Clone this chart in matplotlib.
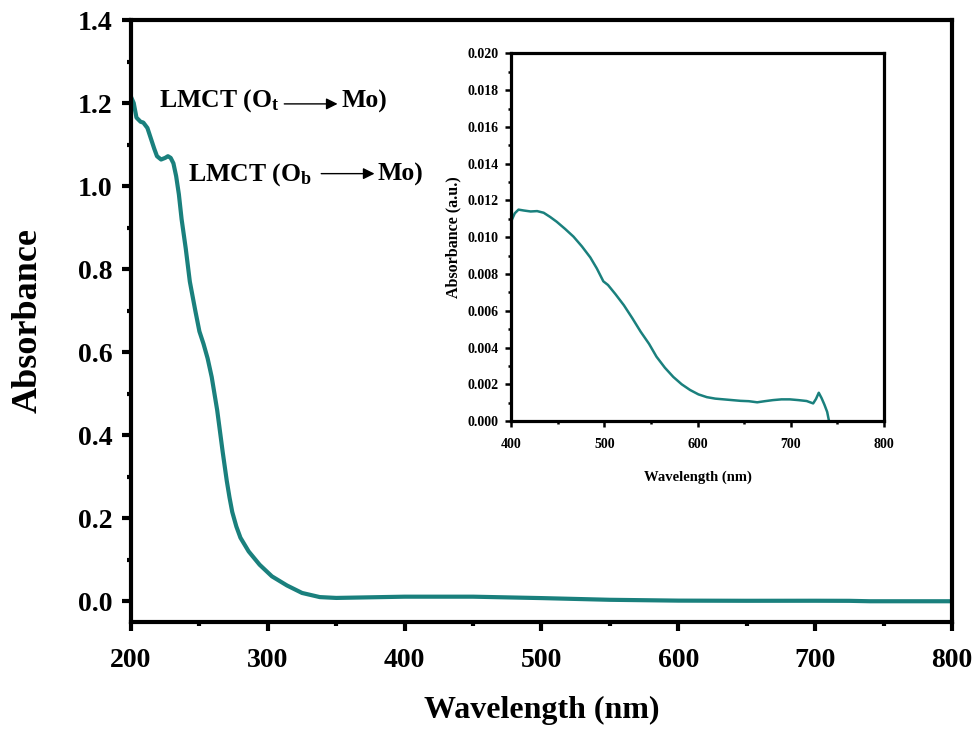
import matplotlib
matplotlib.use("Agg")
import matplotlib.pyplot as plt
from matplotlib.ticker import MultipleLocator, FormatStrFormatter

plt.rcParams['font.family'] = ['Liberation Serif', 'DejaVu Serif']
plt.rcParams['font.weight'] = 'bold'
plt.rcParams['mathtext.fontset'] = 'custom'
plt.rcParams['mathtext.rm'] = 'Liberation Serif:bold'
plt.rcParams['mathtext.it'] = 'Liberation Serif:bold'
plt.rcParams['mathtext.bf'] = 'Liberation Serif:bold'
plt.rcParams['mathtext.default'] = 'rm'

# Main spectrum
wl_main = [200, 202, 204, 207, 209, 212, 214, 217, 219, 222, 225, 227, 229, 231, 233, 235, 237, 240, 243, 247,
           250, 253, 256, 259, 261, 263, 265, 267, 270, 272, 274, 277, 280, 286, 294, 303, 314, 325, 338, 350,
           400, 450, 500, 550, 600, 650, 700, 725, 740, 800]
ab_main = [1.215, 1.20, 1.165, 1.155, 1.153, 1.14, 1.12, 1.09, 1.072, 1.064, 1.068, 1.072, 1.068, 1.055, 1.024,
           0.98, 0.92, 0.85, 0.77, 0.70,
           0.65, 0.62, 0.585, 0.54, 0.50, 0.46, 0.41, 0.36, 0.29, 0.25, 0.215, 0.18, 0.153, 0.12, 0.088, 0.06,
           0.038, 0.02, 0.01, 0.008,
           0.011, 0.011, 0.0076, 0.0035, 0.0015, 0.0011, 0.0012, 0.001, 0.0, 0.0]

# Inset spectrum
wl_in = [400, 404, 408, 414, 421, 428, 435, 442, 449, 458, 467, 476, 485, 492, 499, 504, 512, 521, 530, 539,
         548, 556, 565, 574, 583, 592, 601, 610, 619, 628, 637, 646, 655, 664, 672, 681, 690, 699, 708, 717,
         724, 727, 730, 733, 736, 739, 741]
ab_in = [0.01085, 0.0113, 0.0115, 0.01145, 0.0114, 0.01142, 0.01133, 0.0111, 0.01084, 0.01045, 0.01003, 0.0095,
         0.0089, 0.0083, 0.0076, 0.0074, 0.0069, 0.0063, 0.0056, 0.00486, 0.0042, 0.0035, 0.0029, 0.0024, 0.002,
         0.00169, 0.00145, 0.0013, 0.00122, 0.00118, 0.00114, 0.0011, 0.00108, 0.00102, 0.00108, 0.00114,
         0.00118, 0.00118, 0.00114, 0.00109, 0.00096, 0.0012, 0.00154, 0.00125, 0.0009, 0.0005, 0.0]

color = '#1a807d'

fig = plt.figure(figsize=(9.79, 7.31), dpi=100)
ax = fig.add_axes([0.1338, 0.1491, 0.8386, 0.8235])
ax.plot(wl_main, ab_main, color=color, lw=3)
ax.set_xlim(200, 800)
ax.set_ylim(-0.05, 1.4)
ax.xaxis.set_major_locator(MultipleLocator(100))
ax.xaxis.set_minor_locator(MultipleLocator(50))
ax.yaxis.set_major_locator(MultipleLocator(0.2))
ax.yaxis.set_minor_locator(MultipleLocator(0.1))
ax.yaxis.set_major_formatter(FormatStrFormatter('%.1f'))
for s in ax.spines.values():
    s.set_linewidth(3)
ax.tick_params(which='major', direction='out', length=6.5, width=3, labelsize=20, pad=7)
ax.tick_params(axis='x', which='major', pad=12)
ax.tick_params(which='minor', direction='out', length=3, width=3)
ax.set_xlabel('Wavelength (nm)', fontsize=23, fontweight='bold', labelpad=17)
ax.set_ylabel('Absorbance', fontsize=26, fontweight='bold', labelpad=24)

# Annotations
ax.text(220.5, 1.205, r'LMCT (O$_{t}$', fontsize=18.5, va='center', ha='left')
ax.annotate('', xy=(353, 1.198), xytext=(310, 1.198),
            arrowprops=dict(arrowstyle='-|>', color='black', lw=1, mutation_scale=17))
ax.text(353.5, 1.205, 'Mo)', fontsize=18.5, va='center', ha='left')
ax.text(241.5, 1.028, r'LMCT (O$_{b}$', fontsize=18.5, va='center', ha='left')
ax.annotate('', xy=(380, 1.03), xytext=(337, 1.03),
            arrowprops=dict(arrowstyle='-|>', color='black', lw=1, mutation_scale=17))
ax.text(380.5, 1.028, 'Mo)', fontsize=18.5, va='center', ha='left')

# Inset
axi = fig.add_axes([0.522, 0.424, 0.381, 0.503])
axi.plot(wl_in, ab_in, color=color, lw=1.8)
axi.set_xlim(400, 800)
axi.set_ylim(0, 0.02)
axi.xaxis.set_major_locator(MultipleLocator(100))
axi.xaxis.set_minor_locator(MultipleLocator(50))
axi.yaxis.set_major_locator(MultipleLocator(0.002))
axi.yaxis.set_minor_locator(MultipleLocator(0.001))
axi.yaxis.set_major_formatter(FormatStrFormatter('%.3f'))
for s in axi.spines.values():
    s.set_linewidth(2.3)
axi.tick_params(which='major', direction='out', length=4, width=1.8, labelsize=10, pad=5)
axi.tick_params(axis='x', which='major', pad=8)
axi.tick_params(which='minor', direction='out', length=2.5, width=1.8)
axi.set_xlabel('Wavelength (nm)', fontsize=10.5, fontweight='bold', labelpad=14)
axi.set_ylabel('Absorbance (a.u.)', fontsize=11.5, fontweight='bold', labelpad=4)

fig.savefig('out.png', dpi=100)
